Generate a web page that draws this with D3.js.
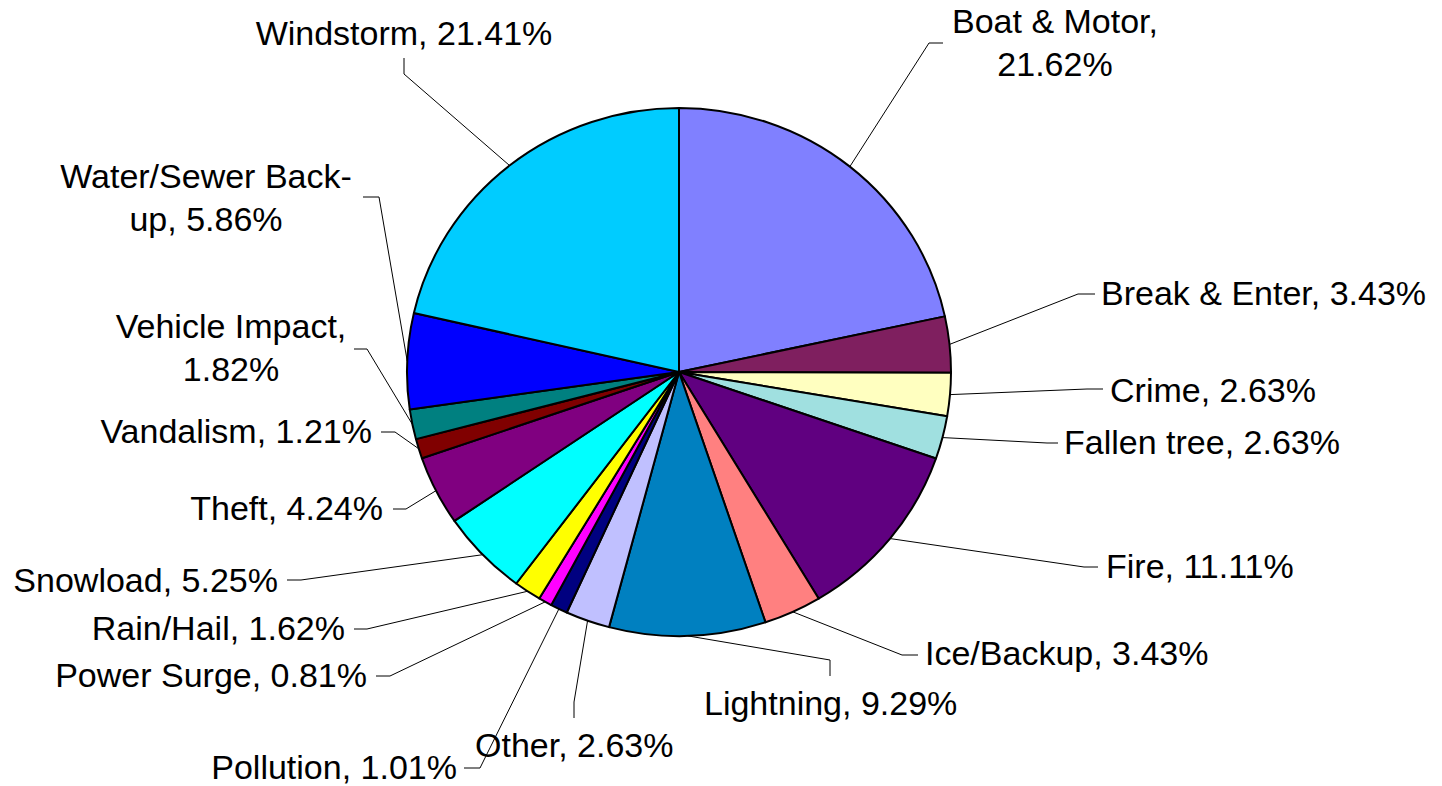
<!DOCTYPE html>
<html>
<head>
<meta charset="utf-8">
<script src="https://cdn.jsdelivr.net/npm/d3@7"></script>
<style>
  html, body { margin: 0; padding: 0; background: #fff; }
  svg { display: block; }
  text { font-family: "Liberation Sans", Arial, sans-serif; font-size: 34px; fill: #000; }
</style>
</head>
<body>
<svg width="1442" height="786"></svg>
<script>
// data (clockwise from 12 o'clock)
const categories = ["Boat & Motor", "Break & Enter", "Crime", "Fallen tree", "Fire", "Ice/Backup",
    "Lightning", "Other", "Pollution", "Power Surge", "Rain/Hail", "Snowload", "Theft",
    "Vandalism", "Vehicle Impact", "Water/Sewer Back-up", "Windstorm"];
const percents = [21.62, 3.43, 2.63, 2.63, 11.11, 3.43, 9.29, 2.63, 1.01, 0.81, 1.62, 5.25, 4.24,
    1.21, 1.82, 5.86, 21.41];
const colors = ["#8080FF", "#7F1F5F", "#FFFFC0", "#A0E0E0", "#600080", "#FF8080", "#0080C0",
    "#C0C0FF", "#000080", "#FF00FF", "#FFFF00", "#00FFFF", "#800080", "#800000", "#008080",
    "#0000FF", "#00CCFF"];
// how the label text is broken into lines
const labelLines = [
    ["Boat & Motor,", "21.62%"], null, null, null, null, null, null, null, null, null, null, null, null,
    null, ["Vehicle Impact,", "1.82%"], ["Water/Sewer Back-", "up, 5.86%"], null
];

// label placement (layout only): text x / first baseline / anchor, leader bend points
const labelLayout = [
    { x: 1055, y: 33, anchor: "middle", pts: [[929, 43], [943, 43]] },
    { x: 1101, y: 305, anchor: "start", pts: [[1078, 294], [1095, 294]] },
    { x: 1110, y: 402, anchor: "start", pts: [[1087, 389], [1103, 389]] },
    { x: 1064, y: 454, anchor: "start", pts: [[1047, 443], [1058, 443]] },
    { x: 1106, y: 578, anchor: "start", pts: [[1084, 567], [1098, 567]] },
    { x: 925, y: 665, anchor: "start", pts: [[902, 655], [918, 655]] },
    { x: 704, y: 715, anchor: "start", pts: [[830, 660], [830, 676]] },
    { x: 475, y: 757, anchor: "start", pts: [[574, 702], [574, 718]] },
    { x: 457, y: 779, anchor: "end", pts: [[480, 768], [464, 768]] },
    { x: 367, y: 687, anchor: "end", pts: [[390, 676], [376, 676]] },
    { x: 345, y: 640, anchor: "end", pts: [[367, 629], [354, 629]] },
    { x: 278, y: 592, anchor: "end", pts: [[301, 580], [287, 580]] },
    { x: 383, y: 520, anchor: "end", pts: [[406, 509], [393, 509]] },
    { x: 372, y: 443, anchor: "end", pts: [[395, 432], [381, 432]] },
    { x: 231, y: 338, anchor: "middle", pts: [[367, 349], [354, 349]] },
    { x: 206, y: 188, anchor: "middle", pts: [[379, 197], [363, 197]] },
    { x: 404, y: 45, anchor: "middle", pts: [[404, 74], [404, 58]] }
];

const rows = categories.map((c, i) => ({ name: c, value: percents[i], color: colors[i], i }));

const svg = d3.select("svg");
const cx = 679, cy = 372, rx = 272, ry = 264;

const pie = d3.pie().sort(null).value(d => d.value);
const arcs = pie(rows);
const arc = d3.arc().innerRadius(0).outerRadius(rx);

// pie is drawn slightly squashed vertically, like the original
const pieG = svg.append("g")
    .attr("transform", `translate(${cx},${cy}) scale(1,${ry / rx})`);

pieG.selectAll("path")
    .data(arcs)
    .enter()
    .append("path")
    .attr("d", arc)
    .attr("fill", d => d.data.color)
    .attr("stroke", "#000")
    .attr("stroke-width", 2)
    .attr("stroke-linejoin", "round")
    .attr("vector-effect", "non-scaling-stroke");

// leader lines from the slice's outer edge
const edgePoint = d => {
    const a = (d.startAngle + d.endAngle) / 2;
    return [cx + rx * Math.sin(a), cy - ry * Math.cos(a)];
};

svg.append("g")
    .selectAll("path")
    .data(arcs)
    .enter()
    .append("path")
    .attr("d", d => d3.line()([edgePoint(d)].concat(labelLayout[d.index].pts)))
    .attr("fill", "none")
    .attr("stroke", "#000")
    .attr("stroke-width", 1);

// labels
const labels = svg.append("g")
    .selectAll("text")
    .data(arcs)
    .enter()
    .append("text")
    .attr("text-anchor", d => labelLayout[d.index].anchor)
    .attr("x", d => labelLayout[d.index].x)
    .attr("y", d => labelLayout[d.index].y);

labels.selectAll("tspan")
    .data(d => {
        const lines = labelLines[d.index] || [`${d.data.name}, ${d.data.value.toFixed(2)}%`];
        return lines.map((t, k) => ({ t, k, x: labelLayout[d.index].x }));
    })
    .enter()
    .append("tspan")
    .attr("x", d => d.x)
    .attr("dy", d => d.k === 0 ? 0 : 43)
    .text(d => d.t);
</script>
</body>
</html>
